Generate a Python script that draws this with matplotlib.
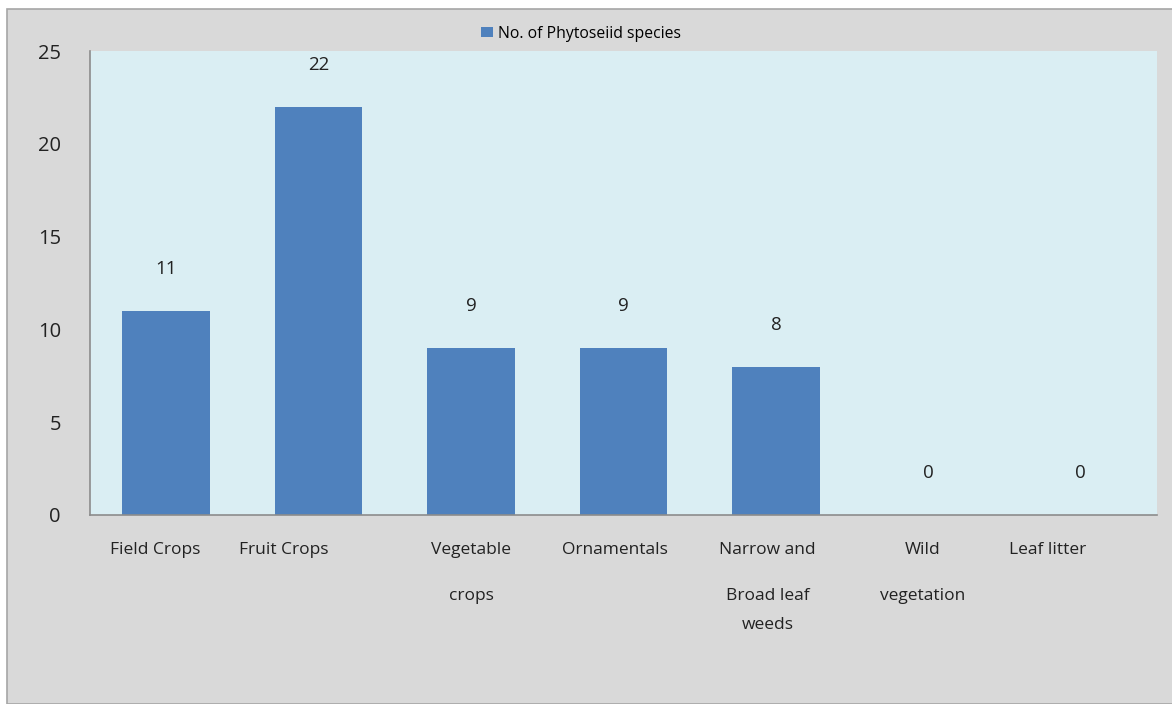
import matplotlib.pyplot as plt
from matplotlib.patches import Rectangle

# Data
categories = [
    ["Field Crops"],
    ["Fruit Crops"],
    ["Vegetable", "crops"],
    ["Ornamentals"],
    ["Narrow and", "Broad leaf", "weeds"],
    ["Wild", "vegetation"],
    ["Leaf litter"],
]
species_counts = [11, 22, 9, 9, 8, 0, 0]
y_ticks = [0, 5, 10, 15, 20, 25]
series_name = "No. of Phytoseiid species"

# small horizontal nudges (points) the original layout gave to some labels
label_nudge = [-8, -25, 0, -6, -6, -4, -24]

plt.rcParams["font.family"] = ["Open Sans", "DejaVu Sans"]

W, H = 1172, 704
fig = plt.figure(figsize=(W / 100, H / 100), dpi=100, facecolor="white")

# grey chart area with a thin border, starting a few pixels in from the top-left
fig.patches.append(Rectangle((7 / W, 0), 1, 1 - 9 / H, transform=fig.transFigure,
                             facecolor="#d9d9d9", edgecolor="#a6a6a6", linewidth=1.2,
                             zorder=-5))

ax = fig.add_axes([90 / W, 1 - 515 / H, (1157 - 90) / W, (515 - 51) / H])
ax.set_facecolor("#daeef3")

x = list(range(len(categories)))
bars = ax.bar(x, species_counts, width=0.575, color="#4f81bd", label=series_name, zorder=2)

ax.set_xlim(-0.5, len(categories) - 0.5)
ax.set_ylim(0, 25)
ax.set_yticks(y_ticks)
ax.tick_params(axis="y", length=0, pad=21, labelsize=14.5, labelcolor="#222222")
ax.tick_params(axis="x", length=0, labelbottom=False)

for side in ["top", "right"]:
    ax.spines[side].set_visible(False)
for side in ["left", "bottom"]:
    ax.spines[side].set_color("#8c8c8c")
    ax.spines[side].set_linewidth(1.2)

# value labels sit well above each bar
for xi, v in zip(x, species_counts):
    ax.annotate(str(v), (xi, v), xytext=(0, 30), textcoords="offset points",
                ha="center", va="center", fontsize=13.5, color="#222222")

# category labels, with the odd Office-style line spacing
line_offsets = [-25, -58, -79]
for xi, lines, dx in zip(x, categories, label_nudge):
    for k, line in enumerate(lines):
        ax.annotate(line, (xi, 0), xytext=(dx, line_offsets[k]), textcoords="offset points",
                    ha="center", va="center", fontsize=12.5, color="#222222",
                    annotation_clip=False)

fig.legend(handles=[bars], loc="center", bbox_to_anchor=(581 / W, 1 - 34 / H),
           frameon=False, fontsize=11.3, handlelength=0.75, handleheight=0.6,
           handletextpad=0.3)

fig.savefig("out.png", dpi=100, facecolor=fig.get_facecolor())
